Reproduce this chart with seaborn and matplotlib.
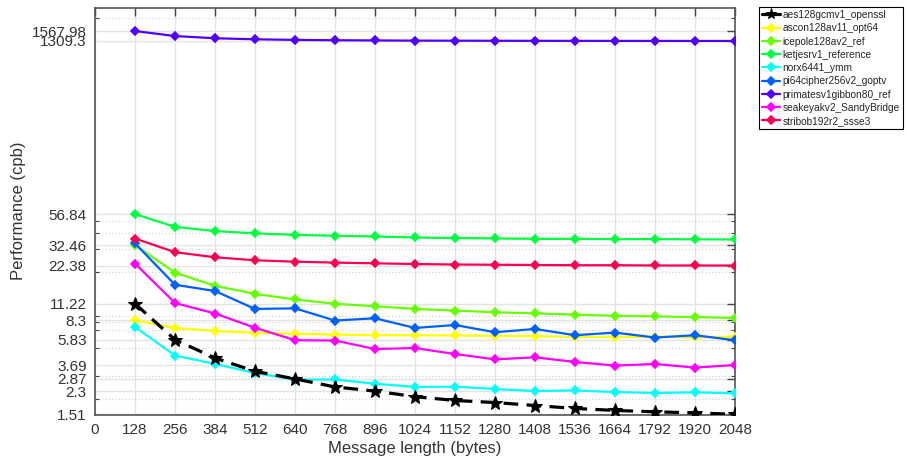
import matplotlib
matplotlib.use("Agg")
import matplotlib.pyplot as plt
import seaborn as sns
import numpy as np

sns.set_style("white")
plt.rcParams['font.family'] = ['Liberation Sans', 'DejaVu Sans']

msg_len = [128, 256, 384, 512, 640, 768, 896, 1024, 1152, 1280, 1408, 1536, 1664, 1792, 1920, 2048]

aes128gcmv1_openssl = [11.22, 5.83, 4.19, 3.29, 2.87, 2.48, 2.3, 2.08, 1.94, 1.87, 1.77, 1.68, 1.62, 1.58, 1.55, 1.51]
ascon128av11_opt64 = [8.3, 7.22, 6.84, 6.62, 6.50, 6.40, 6.33, 6.33, 6.30, 6.26, 6.22, 6.14, 6.14, 6.18, 6.10, 6.18]
icepole128av2_ref = [32.46, 19.7, 15.5, 13.4, 12.1, 11.2, 10.7, 10.2, 9.9, 9.6, 9.4, 9.2, 9.0, 8.9, 8.8, 8.65]
ketjesrv1_reference = [56.84, 45.1, 41.8, 40.1, 39.0, 38.4, 37.9, 37.2, 36.8, 36.6, 36.3, 36.3, 36.1, 36.1, 36.0, 35.9]
norx6441_ymm = [7.35, 4.38, 3.76, 3.19, 2.83, 2.84, 2.63, 2.48, 2.49, 2.39, 2.30, 2.33, 2.26, 2.22, 2.25, 2.21]
pi64cipher256v2_goptv = [33.4, 15.8, 14.1, 10.2, 10.3, 8.26, 8.61, 7.22, 7.62, 6.68, 7.09, 6.33, 6.64, 6.07, 6.33, 5.78]
primatesv1gibbon80_ref = [1567.98, 1432, 1375, 1350, 1335, 1327, 1322, 1318, 1316, 1314, 1313, 1312, 1311, 1310.5, 1310, 1309.3]
seakeyakv2_SandyBridge = [23.2, 11.36, 9.38, 7.25, 5.78, 5.75, 4.93, 5.02, 4.50, 4.09, 4.24, 3.90, 3.65, 3.76, 3.52, 3.69]
stribob192r2_ssse3 = [36.5, 28.5, 26.0, 24.6, 24.0, 23.6, 23.3, 23.0, 22.8, 22.7, 22.6, 22.5, 22.5, 22.4, 22.4, 22.38]

series_names = ["aes128gcmv1_openssl", "ascon128av11_opt64", "icepole128av2_ref",
                "ketjesrv1_reference", "norx6441_ymm", "pi64cipher256v2_goptv",
                "primatesv1gibbon80_ref", "seakeyakv2_SandyBridge", "stribob192r2_ssse3"]
series_values = [aes128gcmv1_openssl, ascon128av11_opt64, icepole128av2_ref,
                 ketjesrv1_reference, norx6441_ymm, pi64cipher256v2_goptv,
                 primatesv1gibbon80_ref, seakeyakv2_SandyBridge, stribob192r2_ssse3]
colors = ["#000000", "#ffff00", "#66ff00", "#00ff40", "#00ffff", "#0060ff",
          "#5000ff", "#ff00ff", "#ff0050"]

x_ticks = [0, 128, 256, 384, 512, 640, 768, 896, 1024, 1152, 1280, 1408, 1536, 1664, 1792, 1920, 2048]
y_ticks = [1.51, 2.3, 2.87, 3.69, 5.83, 8.3, 11.22, 22.38, 32.46, 56.84, 1309.3, 1567.98]
y_tick_labels = ["1.51", "2.3", "2.87", "3.69", "5.83", "8.3", "11.22", "22.38", "32.46", "56.84", "1309.3", "1567.98"]
y_minor = [2, 3, 5, 7, 8, 9, 20, 30, 40, 50, 2000]

fig = plt.figure(figsize=(9.07, 4.58), dpi=100)
ax = fig.add_axes([95/907, 1-414.5/458, (735-95)/907, (414.5-8)/458])

ax.set_yscale("log")
ax.set_xlim(0, 2048)
ax.set_ylim(1.505, 2380)

# grid
for xt in x_ticks:
    ax.axvline(xt, color="#e4e4e4", lw=1.0, zorder=0)
for yt in y_ticks:
    ax.axhline(yt, color="#e4e4e4", lw=1.0, zorder=0)
for yt in y_minor:
    ax.axhline(yt, color="#d0d0d0", lw=0.8, ls=(0, (1, 2)), zorder=0)

for name, vals, c in zip(series_names, series_values, colors):
    if name.startswith("aes"):
        sns.lineplot(x=msg_len, y=vals, ax=ax, color=c, lw=2.3, marker="*",
                     markersize=10, markeredgecolor=c, label=name,
                     dashes=False, zorder=5)
        ax.lines[-1].set_dashes((4.6, 2.6))
    else:
        sns.lineplot(x=msg_len, y=vals, ax=ax, color=c, lw=1.6, marker="D",
                     markersize=4.5, markeredgecolor=c, markeredgewidth=1.2,
                     label=name, zorder=3)

ax.set_xticks(x_ticks)
ax.set_xticklabels([str(v) for v in x_ticks])
ax.set_yticks(y_ticks)
ax.set_yticklabels(y_tick_labels)
ax.set_yticks(y_minor, minor=True)
ax.yaxis.set_minor_formatter(matplotlib.ticker.NullFormatter())
ax.tick_params(axis="both", which="major", direction="in", length=6, width=1,
               color="#444444", labelsize=11, labelcolor="#333333",
               top=True, right=True, pad=6)
ax.tick_params(axis="y", which="minor", direction="in", length=3, width=0.8,
               color="#444444", right=True, left=True)
for s in ax.spines.values():
    s.set_color("#555555")
    s.set_linewidth(1.2)

ax.set_xlabel("Message length (bytes)", fontsize=12, color="#333333", labelpad=3)
ax.set_ylabel("Performance (cpb)", fontsize=12, color="#333333", labelpad=4)

leg = ax.legend(loc="upper left", bbox_to_anchor=(759/907, 1-7/458),
                bbox_transform=fig.transFigure, fontsize=7.3, frameon=True,
                fancybox=False, edgecolor="#000000", framealpha=1,
                handlelength=1.8, handletextpad=0.2, labelspacing=0.32,
                borderpad=0.3, borderaxespad=0)
leg.get_frame().set_linewidth(0.8)
for h in leg.legend_handles:
    h.set_markersize(8 if h.get_marker() == "*" else 4)
    h.set_linestyle("-")

fig.savefig("out.png", dpi=100)
